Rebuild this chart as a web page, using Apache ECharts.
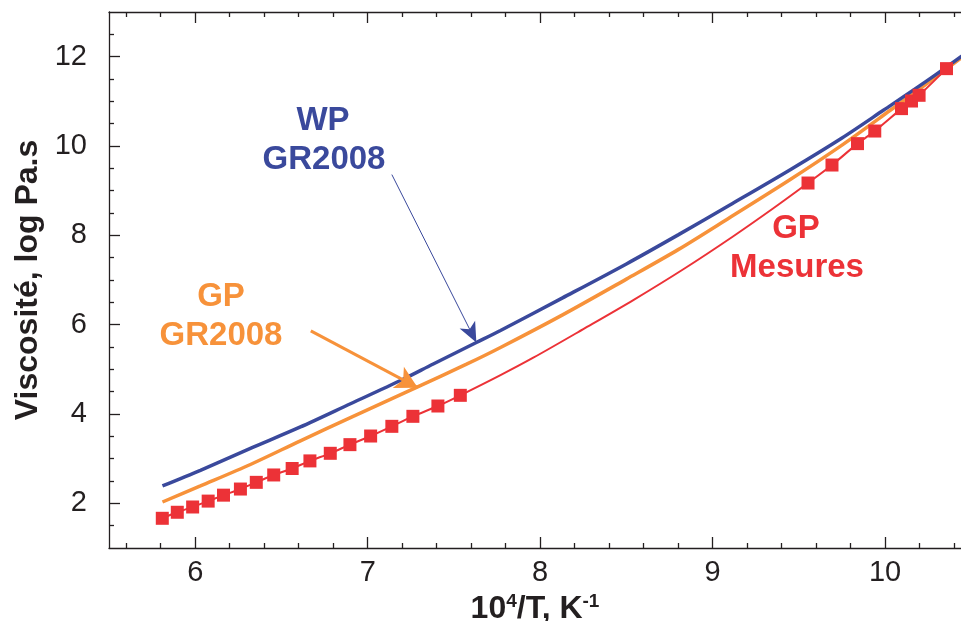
<!DOCTYPE html>
<html>
<head>
<meta charset="utf-8">
<script src="https://cdn.jsdelivr.net/npm/echarts@6/dist/echarts.min.js"></script>
<style>
html,body{margin:0;padding:0;background:#fff;}
#chart{width:961px;height:621px;}
</style>
</head>
<body>
<div id="chart"></div>
<script>
// ---- data (x = 10^4/T in K^-1, y = log viscosity in Pa.s) ----
const wpGR2008X = [5.81, 6.03, 6.32, 6.61, 6.90, 7.19, 7.38, 7.63, 7.77, 8.13, 8.50, 8.80, 9.10, 9.45, 9.75, 9.99, 10.25, 10.50];
const wpGR2008Y = [2.39, 2.74, 3.23, 3.71, 4.23, 4.75, 5.12, 5.60, 5.87, 6.60, 7.36, 8.01, 8.68, 9.47, 10.18, 10.80, 11.48, 12.17];

const gpGR2008X = [5.81, 6.03, 6.32, 6.61, 6.90, 7.28, 7.57, 7.77, 8.13, 8.50, 8.80, 9.10, 9.45, 9.75, 10.03, 10.25, 10.45];
const gpGR2008Y = [2.03, 2.39, 2.87, 3.40, 3.92, 4.59, 5.11, 5.49, 6.22, 7.02, 7.68, 8.40, 9.25, 10.02, 10.80, 11.42, 12.00];

const gpMesuresX = [5.809, 5.896, 5.985, 6.075, 6.164, 6.262, 6.354, 6.455, 6.562, 6.665, 6.783, 6.897, 7.017, 7.140, 7.262, 7.407, 7.537, 9.553, 9.692, 9.840, 9.940, 10.095, 10.153, 10.197, 10.356];
const gpMesuresY = [1.665, 1.800, 1.918, 2.050, 2.183, 2.320, 2.470, 2.635, 2.780, 2.950, 3.120, 3.314, 3.507, 3.724, 3.948, 4.179, 4.418, 9.171, 9.574, 10.053, 10.335, 10.837, 11.007, 11.135, 11.732];

// fitted curve between the two groups of measurements
const gpFitX = [7.77, 7.96, 8.25, 8.54, 8.83, 9.12, 9.35];
const gpFitY = [4.87, 5.26, 5.90, 6.55, 7.24, 7.98, 8.60];

const xMajorTicks = [6, 7, 8, 9, 10];
const xMinorTicks = [5.6, 5.8, 6.2, 6.4, 6.6, 6.8, 7.2, 7.4, 7.6, 7.8, 8.2, 8.4, 8.6, 8.8, 9.2, 9.4, 9.6, 9.8, 10.2, 10.4];
const yMajorTicks = [2, 4, 6, 8, 10, 12];
const yMinorTicks = [1.5, 2.5, 3, 3.5, 4.5, 5, 5.5, 6.5, 7, 7.5, 8.5, 9, 9.5, 10.5, 11, 11.5, 12.5];

// annotation arrows (data coordinates)
const wpArrow = [[7.14, 9.36], [7.63, 5.60]];
const gpArrow = [[6.67, 5.86], [7.29, 4.59]];

// ---- build ----
const zip = (xs, ys) => xs.map((x, i) => [x, ys[i]]);
const redLine = zip(gpMesuresX, gpMesuresY).concat(zip(gpFitX, gpFitY)).sort((a, b) => a[0] - b[0]);

const BLUE = '#3a499c', ORANGE = '#f7923a', RED = '#ec3237', INK = '#231f20';
const FONT = '"Liberation Sans", Arial, Helvetica, sans-serif';
const X_MIN = 5.5, X_MAX = 10.44;

function xAx(pos, ticks, len, showLine, showLabel) {
  return {
    type: 'value', position: pos, min: X_MIN, max: X_MAX,
    axisLine: {show: showLine, onZero: false, lineStyle: {color: INK, width: 1.3}},
    axisTick: {show: true, inside: true, length: len, customValues: ticks, lineStyle: {color: INK, width: 1.3}},
    axisLabel: showLabel ? {show: true, customValues: xMajorTicks, fontSize: 29, fontFamily: FONT, color: INK, margin: 10} : {show: false},
    splitLine: {show: false}
  };
}
function yAx(pos, ticks, len, showLine, showLabel) {
  return {
    type: 'value', position: pos, min: 1, max: 13,
    axisLine: {show: showLine, onZero: false, lineStyle: {color: INK, width: 1.3}},
    axisTick: {show: true, inside: true, length: len, customValues: ticks, lineStyle: {color: INK, width: 1.3}},
    axisLabel: showLabel ? {show: true, customValues: yMajorTicks, fontSize: 29, fontFamily: FONT, color: INK, margin: 22, padding: [0, 0, 8, 0]} : {show: false},
    splitLine: {show: false}
  };
}

const xMain = xAx('bottom', xMajorTicks, 11, true, true);
xMain.name = '{b|10}{s|4}{b|/T, K}{s|-1}';
xMain.nameLocation = 'middle';
xMain.nameGap = 35;
xMain.nameTextStyle = {
  rich: {
    b: {fontSize: 32, fontWeight: 'bold', fontFamily: FONT, color: INK, lineHeight: 34},
    s: {fontSize: 19, fontWeight: 'bold', fontFamily: FONT, color: INK, verticalAlign: 'top', lineHeight: 34}
  }
};
const yMain = yAx('left', yMajorTicks, 11, true, true);
yMain.name = 'Viscosité, log Pa.s';
yMain.nameLocation = 'middle';
yMain.nameGap = 65;
yMain.nameTextStyle = {fontSize: 32, fontWeight: 'bold', fontFamily: FONT, color: INK};

const option = {
  animation: false,
  backgroundColor: '#fff',
  grid: {left: 109, top: 12, right: 0, height: 536, containLabel: false, outerBoundsMode: 'none'},
  xAxis: [
    xMain,
    xAx('bottom', xMinorTicks, 5, false, false),
    xAx('top', xMajorTicks, 11, true, false),
    xAx('top', xMinorTicks, 5, false, false)
  ],
  yAxis: [
    yMain,
    yAx('left', yMinorTicks, 5, false, false)
  ],
  series: [
    {
      name: 'GP GR2008', type: 'line', data: zip(gpGR2008X, gpGR2008Y), smooth: 0.3,
      showSymbol: false, lineStyle: {color: ORANGE, width: 3.5}, z: 2,
      markLine: {
        silent: true, symbol: ['none', 'arrow'], symbolSize: [18, 22], animation: false,
        label: {show: false}, lineStyle: {color: ORANGE, width: 3, type: 'solid'},
        data: [[{coord: gpArrow[0]}, {coord: gpArrow[1]}]]
      }
    },
    {
      name: 'GP Mesures', type: 'line', data: redLine, smooth: 0.3,
      showSymbol: false, lineStyle: {color: RED, width: 2}, z: 3
    },
    {
      name: 'WP GR2008', type: 'line', data: zip(wpGR2008X, wpGR2008Y), smooth: 0.3,
      showSymbol: false, lineStyle: {color: BLUE, width: 3.5}, z: 4,
      markLine: {
        silent: true, symbol: ['none', 'arrow'], symbolSize: [13, 20], animation: false,
        label: {show: false}, lineStyle: {color: BLUE, width: 1, type: 'solid'},
        data: [[{coord: wpArrow[0]}, {coord: wpArrow[1]}]]
      }
    },
    {
      name: 'GP Mesures pts', type: 'scatter', data: zip(gpMesuresX, gpMesuresY),
      symbol: 'rect', symbolSize: 13, itemStyle: {color: RED, opacity: 1}, z: 5
    }
  ],
  graphic: [
    {type: 'text', x: 323, y: 121, style: {text: 'WP', font: 'bold 33px ' + FONT, fill: BLUE, textAlign: 'center', textVerticalAlign: 'middle'}},
    {type: 'text', x: 324, y: 160, style: {text: 'GR2008', font: 'bold 33px ' + FONT, fill: BLUE, textAlign: 'center', textVerticalAlign: 'middle'}},
    {type: 'text', x: 221, y: 297, style: {text: 'GP', font: 'bold 33px ' + FONT, fill: ORANGE, textAlign: 'center', textVerticalAlign: 'middle'}},
    {type: 'text', x: 221, y: 336, style: {text: 'GR2008', font: 'bold 33px ' + FONT, fill: ORANGE, textAlign: 'center', textVerticalAlign: 'middle'}},
    {type: 'text', x: 796, y: 229, style: {text: 'GP', font: 'bold 33px ' + FONT, fill: RED, textAlign: 'center', textVerticalAlign: 'middle'}},
    {type: 'text', x: 797, y: 268, style: {text: 'Mesures', font: 'bold 33px ' + FONT, fill: RED, textAlign: 'center', textVerticalAlign: 'middle'}}
  ]
};

const chart = echarts.init(document.getElementById('chart'), null, {renderer: 'canvas'});
chart.setOption(option);
</script>
</body>
</html>
